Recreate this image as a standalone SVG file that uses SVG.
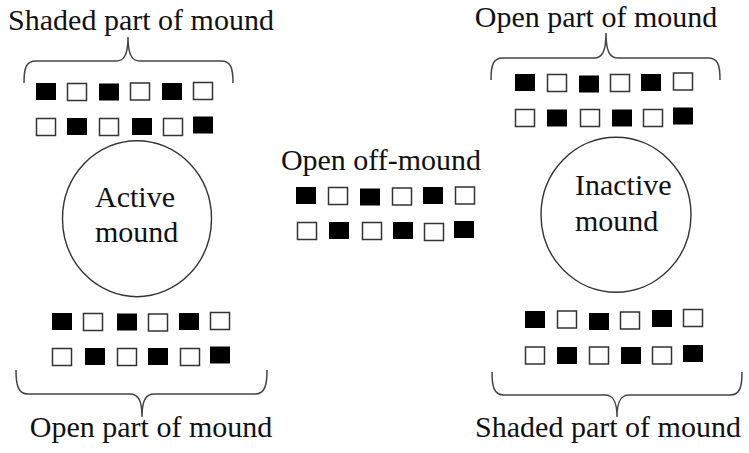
<svg xmlns="http://www.w3.org/2000/svg" width="749" height="453" viewBox="0 0 749 453">
  <style>
    text { font-family: "Liberation Serif", "Times New Roman", serif; font-size: 30px; fill: #111; }
    .lbl { text-anchor: middle; }
    .f { fill: #000; }
    .o { fill: #fff; stroke: #333; stroke-width: 1.5; }
    .brace { fill: none; stroke: #444; stroke-width: 1.5; }
    .mound { fill: #fff; stroke: #333; stroke-width: 1.4; }
  </style>
  <defs>
    <rect id="fs" class="f" width="20" height="17"/>
    <rect id="os" class="o" width="19" height="17"/>
  </defs>

  <!-- braces -->
  <g id="connectors">
    <path class="brace" d="M24,83 C24,68 26,61 36,61 L116,61 C124,61 128,55 128,37 C128,55 132,61 140,61 L221,61 C231,61 233,68 233,83"/>
    <path class="brace" d="M16,370 C16,385 18,394 28,394 L130,394 C138,394 142,400 142,417 C142,400 146,394 154,394 L255,394 C265,394 267,385 267,370"/>
    <path class="brace" d="M491,80 C491,65 493,58 503,58 L594,58 C602,58 606,52 606,33 C606,52 610,58 618,58 L708,58 C718,58 720,65 720,80"/>
    <path class="brace" d="M492,372 C492,387 494,395 504,395 L605,395 C613,395 617,401 617,417 C617,401 621,395 629,395 L730,395 C740,395 742,387 742,372"/>
  </g>

  <!-- Active mound -->
  <g id="active-mound">
    <ellipse class="mound" cx="137" cy="218.7" rx="74.5" ry="78"/>
    <text x="95" y="207">Active</text>
    <text x="95" y="242">mound</text>
  </g>

  <!-- Inactive mound -->
  <g id="inactive-mound">
    <ellipse class="mound" cx="616" cy="214.8" rx="75" ry="77.5"/>
    <text x="575" y="195">Inactive</text>
    <text x="575" y="231">mound</text>
  </g>

  <!-- Shaded part of active mound -->
  <g id="active-shaded">
    <text class="lbl" x="141" y="30">Shaded part of mound</text>
    <use href="#fs" x="36" y="83"/>
    <use href="#os" x="67.5" y="83.5"/>
    <use href="#fs" x="99" y="83.5"/>
    <use href="#os" x="130.5" y="83"/>
    <use href="#fs" x="162" y="83"/>
    <use href="#os" x="193.5" y="82.5"/>
    <use href="#os" x="36.5" y="118.5"/>
    <use href="#fs" x="67" y="118"/>
    <use href="#os" x="99.5" y="118.5"/>
    <use href="#fs" x="132" y="118"/>
    <use href="#os" x="163.5" y="118.5"/>
    <use href="#fs" x="193" y="116.5"/>
  </g>

  <!-- Open part of active mound -->
  <g id="active-open">
    <use href="#fs" x="52" y="313"/>
    <use href="#os" x="83.5" y="313.5"/>
    <use href="#fs" x="117" y="313.5"/>
    <use href="#os" x="148.5" y="314"/>
    <use href="#fs" x="179" y="313"/>
    <use href="#os" x="210.5" y="312.5"/>
    <use href="#os" x="52.5" y="348.5"/>
    <use href="#fs" x="85" y="348"/>
    <use href="#os" x="117.5" y="348.5"/>
    <use href="#fs" x="148" y="348"/>
    <use href="#os" x="180.5" y="348.5"/>
    <use href="#fs" x="210" y="346.5"/>
    <text class="lbl" x="151" y="437">Open part of mound</text>
  </g>

  <!-- Open off-mound -->
  <g id="off-mound">
    <text class="lbl" x="381" y="170">Open off-mound</text>
    <use href="#fs" x="296" y="187"/>
    <use href="#os" x="328.5" y="187.5"/>
    <use href="#fs" x="360" y="188.5"/>
    <use href="#os" x="392.5" y="188"/>
    <use href="#fs" x="423" y="187"/>
    <use href="#os" x="455.5" y="187"/>
    <use href="#os" x="297.5" y="222.5"/>
    <use href="#fs" x="329" y="222"/>
    <use href="#os" x="362.5" y="222.5"/>
    <use href="#fs" x="393" y="222"/>
    <use href="#os" x="424.5" y="223.5"/>
    <use href="#fs" x="454" y="221"/>
  </g>

  <!-- Open part of inactive mound -->
  <g id="inactive-open">
    <text class="lbl" x="596" y="27">Open part of mound</text>
    <use href="#fs" x="515" y="74"/>
    <use href="#os" x="547.5" y="74.5"/>
    <use href="#fs" x="579" y="75.5"/>
    <use href="#os" x="610.5" y="74.5"/>
    <use href="#fs" x="641" y="74"/>
    <use href="#os" x="673.5" y="73"/>
    <use href="#os" x="515.5" y="109.5"/>
    <use href="#fs" x="547" y="109.5"/>
    <use href="#os" x="580.5" y="109.5"/>
    <use href="#fs" x="612" y="109.5"/>
    <use href="#os" x="643.5" y="109.5"/>
    <use href="#fs" x="673" y="107.5"/>
  </g>

  <!-- Shaded part of inactive mound -->
  <g id="inactive-shaded">
    <use href="#fs" x="525" y="311"/>
    <use href="#os" x="557.5" y="311"/>
    <use href="#fs" x="589" y="313"/>
    <use href="#os" x="620.5" y="312"/>
    <use href="#fs" x="652" y="310"/>
    <use href="#os" x="683.5" y="309.5"/>
    <use href="#os" x="525.5" y="347"/>
    <use href="#fs" x="557" y="347"/>
    <use href="#os" x="589.5" y="347"/>
    <use href="#fs" x="621" y="347"/>
    <use href="#os" x="652.5" y="347"/>
    <use href="#fs" x="683" y="345"/>
    <text class="lbl" x="608" y="437">Shaded part of mound</text>
  </g>
</svg>
